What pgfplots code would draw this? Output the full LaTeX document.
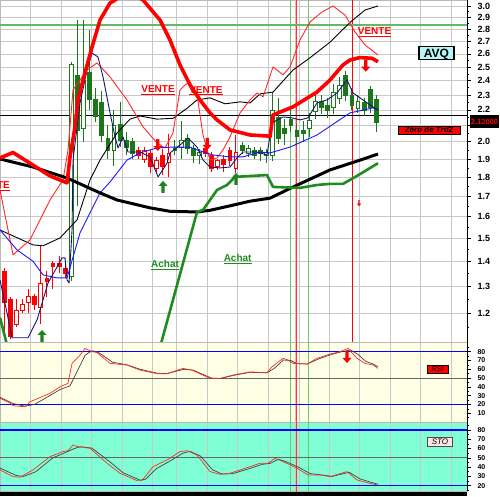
\documentclass[border=0pt]{standalone}
\usepackage{fontspec}
\setmainfont{Liberation Sans}
\usepackage{pgfplots}
\usepackage{pgfplotstable}
\pgfplotsset{compat=1.18}

\definecolor{candlegreen}{RGB}{28,118,28}
\definecolor{candlered}{RGB}{255,0,0}
\definecolor{trendred}{RGB}{255,0,0}
\definecolor{thinred}{RGB}{255,40,40}
\definecolor{mablue}{RGB}{25,25,255}
\definecolor{manavy}{RGB}{20,20,110}
\definecolor{trendgreen}{RGB}{30,140,30}
\definecolor{arrowgreen}{RGB}{30,130,30}
\definecolor{hgreen}{RGB}{100,185,100}
\definecolor{gridgray}{RGB}{200,200,200}
\definecolor{rsibg}{RGB}{255,255,230}
\definecolor{stobg}{RGB}{128,255,212}
\definecolor{avqbg}{RGB}{180,245,245}
\definecolor{stobox}{RGB}{255,228,225}
\definecolor{vpink}{RGB}{255,175,175}
\definecolor{vgreen}{RGB}{110,200,110}

% arrow-shaped plot marks
\pgfdeclareplotmark{arrowup}{%
  \pgfpathmoveto{\pgfqpoint{0pt}{6pt}}%
  \pgfpathlineto{\pgfqpoint{4.5pt}{1pt}}%
  \pgfpathlineto{\pgfqpoint{1.6pt}{1pt}}%
  \pgfpathlineto{\pgfqpoint{1.6pt}{-6pt}}%
  \pgfpathlineto{\pgfqpoint{-1.6pt}{-6pt}}%
  \pgfpathlineto{\pgfqpoint{-1.6pt}{1pt}}%
  \pgfpathlineto{\pgfqpoint{-4.5pt}{1pt}}%
  \pgfpathclose\pgfusepathqfill}
\pgfdeclareplotmark{arrowdown}{%
  \pgfpathmoveto{\pgfqpoint{0pt}{-6pt}}%
  \pgfpathlineto{\pgfqpoint{4.5pt}{-1pt}}%
  \pgfpathlineto{\pgfqpoint{1.6pt}{-1pt}}%
  \pgfpathlineto{\pgfqpoint{1.6pt}{6pt}}%
  \pgfpathlineto{\pgfqpoint{-1.6pt}{6pt}}%
  \pgfpathlineto{\pgfqpoint{-1.6pt}{-1pt}}%
  \pgfpathlineto{\pgfqpoint{-4.5pt}{-1pt}}%
  \pgfpathclose\pgfusepathqfill}
\pgfdeclareplotmark{arrowdownsmall}{%
  \pgfpathmoveto{\pgfqpoint{0pt}{-3pt}}%
  \pgfpathlineto{\pgfqpoint{2.2pt}{-0.5pt}}%
  \pgfpathlineto{\pgfqpoint{0.6pt}{-0.5pt}}%
  \pgfpathlineto{\pgfqpoint{0.6pt}{3pt}}%
  \pgfpathlineto{\pgfqpoint{-0.6pt}{3pt}}%
  \pgfpathlineto{\pgfqpoint{-0.6pt}{-0.5pt}}%
  \pgfpathlineto{\pgfqpoint{-2.2pt}{-0.5pt}}%
  \pgfpathclose\pgfusepathqfill}

% daily candles: index, open, high, low, close, trend colour (1 green, 0 red)
\pgfplotstableread{
x o h l c g
0 1.36 1.37 1.11 1.24 0
1 1.25 1.26 1.11 1.12 0
2 1.16 1.25 1.15 1.21 0
3 1.21 1.25 1.20 1.23 0
4 1.24 1.29 1.20 1.26 0
5 1.26 1.27 1.21 1.23 0
6 1.22 1.47 1.16 1.31 0
7 1.33 1.36 1.26 1.32 0
8 1.39 1.40 1.29 1.38 0
9 1.39 1.42 1.35 1.38 0
10 1.37 1.39 1.33 1.35 0
11 1.34 2.54 1.32 2.52 1
12 2.44 2.88 1.65 2.07 1
13 2.08 2.88 2.00 2.40 1
14 2.46 2.79 2.20 2.27 1
15 2.27 2.35 2.12 2.16 1
16 2.25 2.33 2.00 2.04 1
17 2.02 2.10 1.90 1.95 1
18 1.95 2.20 1.86 2.10 1
19 2.11 2.25 1.97 2.01 1
20 2.01 2.06 1.92 1.97 1
21 2.00 2.02 1.90 1.93 1
22 1.95 1.97 1.90 1.92 0
23 1.90 1.97 1.88 1.95 0
24 1.93 1.95 1.82 1.86 0
25 1.85 1.91 1.83 1.89 0
26 1.92 1.96 1.81 1.86 0
27 1.88 2.05 1.80 1.93 0
28 1.96 2.01 1.92 1.95 1
29 1.97 2.13 1.90 2.01 1
30 2.02 2.05 1.93 1.96 1
31 1.96 1.98 1.88 1.92 1
32 1.92 1.96 1.87 1.94 1
33 1.96 1.98 1.91 1.93 0
34 1.92 1.94 1.83 1.85 0
35 1.86 1.90 1.84 1.89 0
36 1.90 1.92 1.83 1.87 0
37 1.95 1.97 1.86 1.89 0
38 1.85 2.04 1.82 1.94 0
39 1.98 2.00 1.93 1.95 1
40 1.93 1.98 1.91 1.96 1
41 1.95 1.97 1.90 1.92 1
42 1.95 1.97 1.89 1.93 1
43 1.92 1.96 1.88 1.94 1
44 1.92 2.32 1.89 2.20 1
45 2.15 2.28 1.99 2.02 1
46 2.08 2.14 1.98 2.05 1
47 2.14 2.20 2.06 2.10 1
48 2.07 2.11 1.98 2.03 1
49 2.07 2.13 2.00 2.05 1
50 2.08 2.18 2.03 2.13 1
51 2.19 2.31 2.14 2.26 1
52 2.26 2.30 2.17 2.22 1
53 2.23 2.28 2.15 2.20 1
54 2.22 2.38 2.17 2.32 1
55 2.28 2.43 2.24 2.37 1
56 2.44 2.47 2.26 2.30 1
57 2.30 2.35 2.20 2.23 1
58 2.21 2.30 2.18 2.26 1
59 2.25 2.28 2.16 2.20 1
60 2.34 2.36 2.18 2.22 1
61 2.27 2.30 2.06 2.12 1
}\ohlc

\pgfplotsset{
  panel/.style={
    scale only axis, width=467pt, anchor=south west,
    xmin=-0.66, xmax=75.9,
    xtick={4.38,9.34,14.38,19.34,24.38,28.31,33.28,38.31,43.33,48.36,53.28,58.2,63.28,68.31,73.39},
    xticklabels={}, xmajorgrids,
    ytick pos=right, yticklabel pos=right, tick align=outside,
    major tick length=4pt, minor tick length=2pt,
    xtick style={draw=none},
    ytick style={black, line width=0.6pt},
    grid style={gridgray, line width=0.6pt},
    axis line style={draw=gray!55},
    /pgf/number format/assume math mode=true,
    yticklabel style={anchor=west, xshift=3pt},
  },
  vmarks/.style={forget plot, line width=#1},
}

\begin{document}
\begin{tikzpicture}
\useasboundingbox (0pt,0pt) rectangle (500pt,496pt);
\fill[white] (0pt,0pt) rectangle (500pt,496pt);
\fill[black] (0pt,0pt) rectangle (467pt,5pt);

% ---------------- price panel ----------------
\begin{axis}[panel, name=main,
  at={(0pt,154pt)}, height=342pt,
  ymode=log, ymin=1.10, ymax=3.054,
  ymajorgrids,
  ytick={1.2,1.3,1.4,1.5,1.6,1.7,1.8,1.9,2.0,2.1,2.2,2.3,2.4,2.5,2.6,2.7,2.8,2.9,3.0},
  yticklabels={1.2,1.3,1.4,1.5,1.6,1.7,1.8,1.9,2.0,,2.2,2.3,2.4,2.5,2.6,2.7,2.8,2.9,3.0},
  minor ytick={1.15,1.25,1.35,1.45,1.55,1.65,1.75,1.85,1.95,2.05,2.15,2.25,2.35,2.45,2.55,2.65,2.75,2.85,2.95},
  yticklabel style={font=\fontsize{9}{10}\selectfont\bfseries},
]
% signal verticals
\addplot[vmarks=0.9pt, vgreen] coordinates {(46.89,1.05) (46.89,3.2)};
\addplot[vmarks=0.9pt, vgreen] coordinates {(49.84,1.05) (49.84,3.2)};
\addplot[vmarks=2.6pt, vpink] coordinates {(47.87,1.05) (47.87,3.2)};
\addplot[vmarks=0.6pt, red!80] coordinates {(47.87,1.05) (47.87,3.2)};
\addplot[vmarks=0.9pt, red] coordinates {(57.16,1.05) (57.16,3.2)};
% horizontal levels
\addplot[vmarks=1.6pt, hgreen] coordinates {(-1,2.835) (77,2.835)};
\addplot[vmarks=1.6pt, black] coordinates {(-1,2.163) (77,2.163)};

% candles
\pgfplotstablegetrowsof{\ohlc}
\pgfmathtruncatemacro\lastrow{\pgfplotsretval-1}
\pgfplotsforeachungrouped \candleidx in {0,...,\lastrow}{%
  \pgfplotstablegetelem{\candleidx}{x}\of\ohlc\let\cx\pgfplotsretval
  \pgfplotstablegetelem{\candleidx}{o}\of\ohlc\let\co\pgfplotsretval
  \pgfplotstablegetelem{\candleidx}{h}\of\ohlc\let\ch\pgfplotsretval
  \pgfplotstablegetelem{\candleidx}{l}\of\ohlc\let\cl\pgfplotsretval
  \pgfplotstablegetelem{\candleidx}{c}\of\ohlc\let\cc\pgfplotsretval
  \pgfplotstablegetelem{\candleidx}{g}\of\ohlc\let\cg\pgfplotsretval
  \pgfmathsetmacro\xl{\cx-0.31}%
  \pgfmathsetmacro\xr{\cx+0.31}%
  \ifnum\cg=1 \def\ccol{candlegreen}\else\def\ccol{candlered}\fi
  \pgfmathtruncatemacro\isdown{\cc<\co}%
  \ifnum\isdown=1 \edef\cfill{\ccol}\else\def\cfill{white}\fi
  \edef\drawcandle{%
    \noexpand\addplot[forget plot, draw=\ccol, line width=0.8pt] coordinates {(\cx,\cl) (\cx,\ch)};
    \noexpand\addplot[forget plot, draw=\ccol, fill=\cfill, line width=0.6pt] coordinates {(\xl,\co) (\xr,\co) (\xr,\cc) (\xl,\cc)} -- cycle;
  }\drawcandle
}

% moving averages and bands
\addplot[black, line width=0.9pt, line join=round] coordinates {
(-0.66,1.537) (4.75,1.470) (6.39,1.466) (9.18,1.501) (11.97,1.584) (14.1,1.785) (15.74,1.894) (18.52,2.053) (20.66,2.14) (22.3,2.16) (25.08,2.14) (27.7,2.145) (30.0,2.21) (31.64,2.266) (33.77,2.28) (36.23,2.24) (38.69,2.253) (40.33,2.246) (41.97,2.307) (44.1,2.32) (47.38,2.478) (50.16,2.57) (53.44,2.693) (56.72,2.856) (59.18,2.964) (61.31,3.0)};
\addplot[thinred, line width=0.9pt, line join=round] coordinates {
(-0.66,1.732) (1.48,1.427) (4.26,1.492) (7.54,1.681) (9.67,1.785) (10.49,1.952) (11.31,2.335) (13.61,2.478) (15.25,2.531) (17.38,2.427) (20.16,2.266) (22.79,2.091) (25.08,1.993) (26.39,1.964) (27.7,2.053) (28.85,2.335) (29.67,2.370) (30.49,2.391) (31.64,2.300) (32.62,2.041) (33.77,1.894) (34.92,1.906) (35.9,1.952) (37.05,2.029) (38.69,2.180) (40.33,2.266) (41.48,2.314) (42.46,2.287) (44.1,2.501) (45.74,2.442) (46.89,2.501) (48.52,2.710) (50.16,2.860) (52.13,2.947) (53.93,3.0) (55.9,2.920) (57.54,2.776) (59.18,2.670) (61.31,2.592)};
\addplot[mablue, line width=0.9pt, line join=round] coordinates {
(-0.66,1.537) (2.13,1.448) (4.75,1.40) (6.39,1.344) (8.69,1.332) (10.33,1.332) (12.46,1.524) (15.74,1.717) (17.38,1.774) (20.16,1.894) (22.3,1.935) (25.08,1.964) (27.7,1.969) (30.49,1.969) (31.64,1.952) (34.26,1.923) (37.05,1.912) (39.18,1.912) (41.97,1.940) (43.61,1.935) (46.89,1.969) (51.31,2.041) (56.72,2.180) (60.49,2.213) (61.31,2.199)};
\addplot[manavy, line width=0.9pt, line join=round] coordinates {
(-0.66,1.324) (0.49,1.20) (1.31,1.114) (3.93,1.114) (5.41,1.175) (6.39,1.247) (7.21,1.312) (8.69,1.376) (9.51,1.414) (10.0,1.414) (10.33,1.324) (10.66,1.312) (11.15,1.537) (11.31,1.894) (12.46,2.246) (13.61,2.478) (14.43,2.607) (15.41,2.576) (16.23,2.427) (17.38,2.180) (18.2,2.029) (18.69,1.964) (19.51,2.029) (20.33,1.940) (22.3,1.940) (23.93,1.912) (25.25,1.801) (26.72,1.876) (27.21,1.935) (28.85,1.981) (30.16,2.023) (31.64,1.969) (32.62,1.894) (33.77,1.855) (35.41,1.850) (37.05,1.855) (38.2,1.906) (39.18,1.940) (41.48,1.940) (43.11,1.923) (43.93,2.116) (45.74,2.154) (47.21,2.148) (48.52,2.135) (49.84,2.148) (51.31,2.246) (52.95,2.266) (54.59,2.314) (56.23,2.405) (57.21,2.314) (58.85,2.266) (60.49,2.219) (61.31,2.199)};
% long trend lines
\addplot[black, line width=3pt, line join=round] coordinates {
(-0.66,1.90) (4.75,1.855) (10.33,1.795) (15.74,1.717) (18.52,1.681) (23.93,1.642) (27.21,1.625) (31.64,1.622) (33.77,1.630) (37.5,1.655) (40.33,1.675) (43.6,1.69) (46.89,1.74) (53.44,1.839) (57.16,1.88) (61.31,1.928)};
\addplot[trendgreen, line width=2.6pt, line join=round] coordinates {(-0.66,1.183) (0.5,1.09)};
\addplot[trendgreen, line width=2.6pt, line join=round] coordinates {
(25.7,1.092) (31.64,1.622) (32.62,1.632) (33.77,1.681) (34.92,1.732) (36.56,1.758) (37.87,1.801) (43.11,1.811) (44.1,1.748) (48.52,1.743) (51.31,1.758) (53.44,1.764) (55.57,1.764) (57.54,1.80) (61.31,1.876)};
\addplot[trendred, line width=3.6pt, line join=round] coordinates {
(-0.66,1.906) (1.48,1.937) (4.26,1.876) (7.54,1.806) (10.33,1.769) (10.82,1.912) (11.64,2.091) (12.13,2.266) (12.95,2.405) (14.43,2.654) (15.74,2.877) (17.38,3.027) (18.2,3.054) (19.84,3.12) (21.48,3.10) (22.79,3.054) (23.93,2.98) (25.57,2.877) (27.21,2.71) (28.85,2.516) (30.49,2.37) (32.13,2.266) (33.77,2.18) (34.92,2.135) (37.05,2.072) (40.33,2.041) (43.11,2.035) (43.6,2.03) (44.1,2.167) (47.38,2.22) (51.31,2.32) (53.44,2.405) (55.57,2.516) (56.72,2.553) (58.36,2.572) (60.33,2.566) (61.31,2.54)};

% buy / sell arrows
\addplot[only marks, mark=arrowup, arrowgreen, forget plot] coordinates {(6.23,1.12) (26.07,1.748) (38.03,1.79)};
\addplot[only marks, mark=arrowdown, red, forget plot] coordinates {(25.2,1.981) (33.3,1.987) (59.3,2.51)};
\addplot[only marks, mark=arrowdownsmall, red, forget plot] coordinates {(58.2,1.665)};

% signal labels
\node[text=red, font=\fontsize{10}{12}\selectfont\bfseries] at (axis cs:25.25,2.335) {\underline{VENTE}};
\node[text=red, font=\fontsize{10}{12}\selectfont\bfseries] at (axis cs:33.1,2.33) {\underline{VENTE}};
\node[text=red, font=\fontsize{10}{12}\selectfont\bfseries] at (axis cs:60.74,2.776) {\underline{VENTE}};
\node[text=red, font=\fontsize{10}{12}\selectfont\bfseries, anchor=east, inner xsep=0pt] at (axis cs:0.98,1.753) {\underline{VENTE}};
\node[text=trendgreen, font=\fontsize{10}{12}\selectfont\bfseries] at (axis cs:26.39,1.385) {\underline{Achat}};
\node[text=trendgreen, font=\fontsize{10}{12}\selectfont\bfseries] at (axis cs:38.3,1.41) {\underline{Achat}};
\node[draw=black, line width=1.2pt, fill=avqbg, font=\fontsize{12}{13}\selectfont\bfseries,
      text height=8.6pt, text depth=0pt, inner xsep=5pt, inner ysep=2.4pt] at (axis cs:70.9,2.607) {AVQ};
\node[draw=black, line width=0.5pt, fill=red, font=\fontsize{8}{9}\selectfont\bfseries\itshape,
      text height=6pt, text depth=1.2pt, inner ysep=0.6pt, minimum width=62pt] at (axis cs:69.67,2.069) {Zéro de Trd2};
\end{axis}
\draw[black, line width=0.9pt] (main.south east) -- (main.north east);
\node[fill=black, text=red, font=\fontsize{7.5}{8}\selectfont\bfseries, minimum width=29pt, minimum height=13pt, inner sep=0pt] at (484.5pt,374.5pt) {2.12000};

% ---------------- RSI panel ----------------
\begin{axis}[panel, name=rsi,
  at={(0pt,74pt)}, height=80pt,
  ymin=0, ymax=91,
  ytick={10,20,30,40,50,60,70,80}, minor ytick={5,15,25,35,45,55,65,75,85},
  yticklabel style={font=\fontsize{7}{8}\selectfont\bfseries},
  axis background/.style={fill=rsibg},
]
\addplot[vmarks=0.9pt, vgreen] coordinates {(46.89,-5) (46.89,100)};
\addplot[vmarks=0.9pt, vgreen] coordinates {(49.84,-5) (49.84,100)};
\addplot[vmarks=2.6pt, vpink] coordinates {(47.87,-5) (47.87,100)};
\addplot[vmarks=0.6pt, red!80] coordinates {(47.87,-5) (47.87,100)};
\addplot[vmarks=1.3pt, blue] coordinates {(-1,80) (77,80)};
\addplot[vmarks=1.3pt, blue] coordinates {(-1,20) (77,20)};
\addplot[vmarks=0.8pt, black!60] coordinates {(-1,50) (77,50)};
\addplot[black!75, line width=0.7pt, line join=round] coordinates {
(-0.66,28) (1.5,21) (3.4,18) (5,20) (7.5,30) (9.2,37) (10.8,41) (11.8,55) (13.3,76) (14.4,81) (15.3,80) (17.8,68) (20.2,65) (22.3,60) (25.1,55.5) (26.7,55) (29.5,60) (31,59) (34,50) (35.5,49.5) (37.6,53) (40.3,56.5) (43.1,56) (44.3,61) (45.8,70.5) (47,70) (48,66.5) (49.7,66) (51.5,71.5) (53.5,76.5) (55.1,79.5) (56.8,82) (58,77) (59.3,69) (60.5,66) (61.31,63)};
\addplot[thinred, line width=0.7pt, line join=round] coordinates {
(-0.66,27) (0.98,21.6) (1.48,18.5) (3.44,17.4) (4.26,23) (7.54,32.6) (9.18,40) (10.49,44) (11.15,66.7) (12.46,76) (13.28,83.7) (14.43,80) (15.25,79) (17.38,66.7) (20.16,64.8) (22.3,59) (25.08,55) (26.72,55) (29.34,61) (30.82,59) (33.77,49.6) (35.41,49.6) (37.54,53.4) (40.33,57) (43.11,56) (43.93,62.9) (45.74,72.4) (46.56,70.5) (47.38,66.7) (49.67,65.9) (51.31,72.4) (53.44,77.3) (55.08,80) (56.39,83.7) (57.87,72.4) (59.18,66.7) (60.49,64.8) (61.31,61)};
\addplot[only marks, mark=arrowdown, red, forget plot] coordinates {(56.23,74)};
\end{axis}
\draw[black, line width=0.9pt] (rsi.south east) -- (rsi.north east);
\node[draw=black, line width=0.5pt, fill=red, font=\fontsize{7}{8}\selectfont\itshape, minimum width=21pt, minimum height=8pt, inner sep=0pt] at (437.5pt,126.5pt) {RSI};

% ---------------- stochastic panel ----------------
\begin{axis}[panel, name=sto,
  at={(0pt,5pt)}, height=69pt,
  ymin=14.3, ymax=88.6,
  ytick={20,30,40,50,60,70,80}, minor ytick={15,25,35,45,55,65,75,85},
  yticklabel style={font=\fontsize{7}{8}\selectfont\bfseries},
  axis background/.style={fill=stobg},
  xtick pos=left, xtick style={white, line width=0.8pt},
]
\addplot[vmarks=0.9pt, vgreen] coordinates {(46.89,0) (46.89,100)};
\addplot[vmarks=0.9pt, vgreen] coordinates {(49.84,0) (49.84,100)};
\addplot[vmarks=2.6pt, vpink] coordinates {(47.87,0) (47.87,100)};
\addplot[vmarks=0.6pt, red!80] coordinates {(47.87,0) (47.87,100)};
\addplot[vmarks=1.7pt, blue] coordinates {(-1,80) (77,80)};
\addplot[vmarks=1.3pt, blue] coordinates {(-1,20) (77,20)};
\addplot[vmarks=0.8pt, black!60] coordinates {(-1,50) (77,50)};
\addplot[black!75, line width=0.7pt, line join=round] coordinates {
(-0.66,39) (2,31) (3.2,30) (5.2,35) (8,50) (10,55.5) (11.5,60) (12.5,62) (14.4,60.5) (17.3,46) (19.5,34) (22.3,26) (23.2,27) (25,38.5) (27.2,46.5) (29.3,55) (30.5,57) (32.2,52) (34.2,37) (35.8,32.5) (37.5,33) (40.5,39) (42.3,43) (43.6,44) (45,48.5) (46.2,46) (48.4,39.5) (50.2,33) (52.2,31.5) (53.8,30) (56.6,34.5) (58.3,27.5) (60,24) (61.31,21.5)};
\addplot[thinred, line width=0.7pt, line join=round] coordinates {
(-0.66,37) (1.48,29.8) (2.62,29.1) (4.75,37) (7.54,51.3) (9.67,56.7) (10.49,57.8) (11.31,63.9) (12.13,62) (14.1,60.3) (16.89,44.2) (19.02,33.4) (21.8,25.5) (22.62,25.5) (24.43,40.5) (26.72,47.7) (28.85,56.7) (30.0,57.8) (31.64,53) (33.77,35.2) (35.41,32.3) (37.05,33.4) (40.33,40.5) (41.97,44.2) (43.28,44.2) (44.43,49.6) (45.74,46) (48.03,38.8) (49.84,31.6) (51.8,31.6) (53.44,29.8) (56.23,35.2) (57.87,26.2) (59.51,23.3) (61.15,20.9)};
\end{axis}
\draw[black, line width=0.9pt] (sto.south east) -- (sto.north east);
\node[draw=black!70, line width=0.6pt, fill=stobox, font=\fontsize{8}{9}\selectfont\itshape, minimum width=25pt, minimum height=9pt, inner sep=0pt] at (440pt,54pt) {STO};
\end{tikzpicture}
\end{document}
